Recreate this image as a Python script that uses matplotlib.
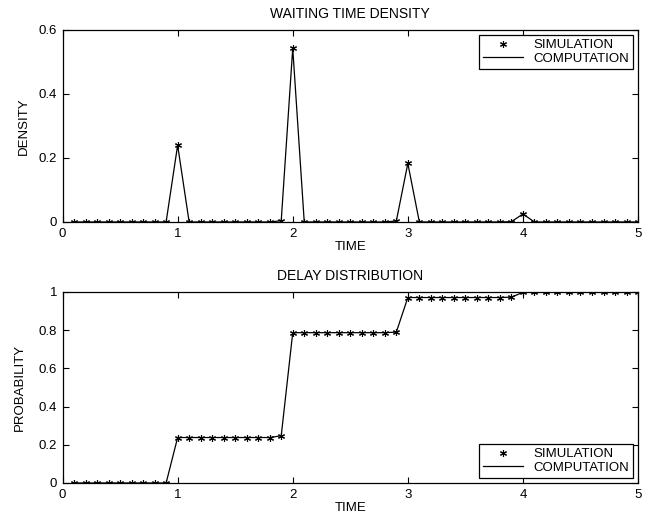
import numpy as np
import matplotlib.pyplot as plt

plt.rcParams['font.family'] = ['Liberation Sans', 'DejaVu Sans']
plt.rcParams['font.size'] = 9.5

# time steps of the simulation
times = [0.1, 0.2, 0.3, 0.4, 0.5, 0.6, 0.7, 0.8, 0.9, 1.0,
         1.1, 1.2, 1.3, 1.4, 1.5, 1.6, 1.7, 1.8, 1.9, 2.0,
         2.1, 2.2, 2.3, 2.4, 2.5, 2.6, 2.7, 2.8, 2.9, 3.0,
         3.1, 3.2, 3.3, 3.4, 3.5, 3.6, 3.7, 3.8, 3.9, 4.0,
         4.1, 4.2, 4.3, 4.4, 4.5, 4.6, 4.7, 4.8, 4.9, 5.0]

# waiting time density
density = [0, 0, 0, 0, 0, 0, 0, 0, 0, 0.240,
           0, 0, 0, 0, 0, 0, 0, 0, 0.004, 0.543,
           0, 0, 0, 0, 0, 0, 0, 0, 0.003, 0.183,
           0, 0, 0, 0, 0, 0, 0, 0, 0.001, 0.025,
           0, 0, 0, 0, 0, 0, 0, 0, 0, 0]

# delay distribution
probability = [0, 0, 0, 0, 0, 0, 0, 0, 0, 0.238,
               0.238, 0.238, 0.238, 0.238, 0.238, 0.238, 0.238, 0.238, 0.247, 0.787,
               0.787, 0.787, 0.787, 0.787, 0.787, 0.787, 0.787, 0.787, 0.790, 0.971,
               0.971, 0.971, 0.971, 0.971, 0.971, 0.971, 0.971, 0.971, 0.973, 0.998,
               0.998, 0.998, 0.998, 0.998, 0.998, 0.998, 0.998, 0.998, 0.998, 0.998]

xticks = [0, 1, 2, 3, 4, 5]
density_ticks = [0, 0.2, 0.4, 0.6]
prob_ticks = [0, 0.2, 0.4, 0.6, 0.8, 1]

star = (6, 2, 0)


def styleAxes(ax, yticks):
    ax.set_xlim(0, 5)
    ax.set_ylim(yticks[0], yticks[-1])
    ax.set_xticks(xticks)
    ax.set_xticklabels(['%g' % v for v in xticks])
    ax.set_yticks(yticks)
    ax.set_yticklabels(['%g' % v for v in yticks])
    ax.tick_params(direction='in', top=True, right=True, length=4, width=0.8, pad=4)
    for s in ax.spines.values():
        s.set_linewidth(0.9)


def drawPanel(ax, values, yticks, title, ylabel, legend_loc, ypad):
    ax.plot(times, values, linestyle='none', marker=star, color='black',
            markersize=5, markeredgewidth=0.8, label='SIMULATION')
    ax.plot(times, values, color='black', linewidth=0.9, label='COMPUTATION')
    ax.set_title(title, fontsize=10, pad=8.5)
    ax.set_ylabel(ylabel, labelpad=ypad)
    ax.set_xlabel("TIME", labelpad=1)
    styleAxes(ax, yticks)
    leg = ax.legend(loc=legend_loc, fancybox=False, edgecolor='black',
                    framealpha=1, borderaxespad=0.4, handlelength=3,
                    borderpad=0.3, labelspacing=0.1)
    leg.get_frame().set_linewidth(0.9)


fig = plt.figure(figsize=(6.52, 5.19), dpi=100)

top = fig.add_axes([0.0959, 0.5723, 0.8827, 0.370])
drawPanel(top, density, density_ticks, "WAITING TIME DENSITY", "DENSITY",
          'upper right', 6)

bottom = fig.add_axes([0.0959, 0.0694, 0.8827, 0.368])
drawPanel(bottom, probability, prob_ticks, "DELAY DISTRIBUTION", "PROBABILITY",
          'lower right', 9)

plt.savefig("out.png", dpi=100)
